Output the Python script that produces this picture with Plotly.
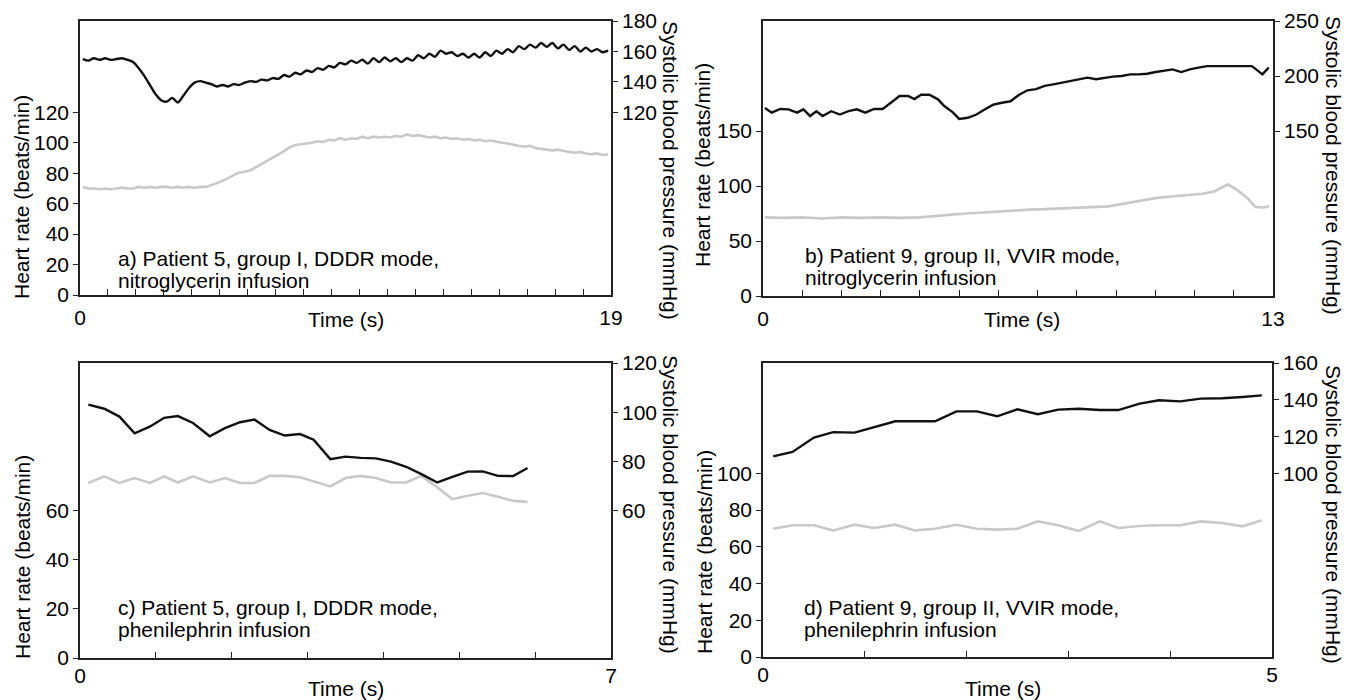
import plotly.graph_objects as go

W, H = 1349, 700
FONT = "Liberation Sans, Arial, Helvetica, sans-serif"
BLACK = "#111111"
GREY = "#c8c8c8"

# ---------------- data ----------------
# (a) Patient 5, group I, DDDR mode, nitroglycerin infusion (samples every 0.2 s from 0.1 s)
a_sbp = [155, 154, 155.5, 154.5, 155.5, 154.5, 155, 155.5, 154.5,
         153, 149, 144, 138, 132, 128, 127, 129.5, 126.5, 131, 136,
         139.5, 140.5, 139.5, 138.5, 137, 138, 137, 138.5, 138, 139.5,
         140.5, 140, 141.5, 141, 142.5, 142, 144.5, 143.5, 146, 145,
         147.5, 146.5, 149, 148, 150.5, 149.5, 152.5, 151.5, 154, 152.5,
         154.5, 152, 155.5, 153, 156, 153.5, 155.5, 153, 155.5, 154,
         157.5, 155.5, 158.5, 156.5, 160.5, 158.5, 159.5, 157, 158.5, 156,
         158.5, 156, 159.5, 157, 160.5, 158.5, 161.5, 159.5, 163.5, 161.5,
         164.5, 162.5, 165.5, 163, 165.5, 162, 164.5, 161, 163.5, 160,
         162.5, 160, 161.5, 159.5, 160.5]
a_hr = [71, 70, 70, 69.5, 70, 69.5, 70, 70.5, 70, 70, 71, 70.5, 71, 70.5, 71, 71,
        70.5, 71, 70.5, 71, 70.5, 71, 71,
        72, 73.5, 75, 77, 79, 80.5, 81, 82, 84, 86, 88, 90, 92, 94.5, 97, 98.5, 99,
        99.5, 100, 101, 100.5, 102, 101.5, 103, 102, 103, 102.5, 104, 103, 104, 103.5,
        104, 103.5, 104.5, 104, 105.5, 104.5, 105, 104, 103.5, 104, 103, 103.5, 102.5,
        103, 102, 102.5, 101.5, 102, 101, 101.5, 100.5, 100, 99.5, 98.5, 98, 97.5, 98,
        96.5, 96, 95.5, 95, 95.5, 94.5, 94, 93.5, 94, 93, 92.5, 93, 92, 92.5]
a_t = [round(0.1 + 0.2 * i, 2) for i in range(len(a_sbp))]

# (b) Patient 9, group II, VVIR mode, nitroglycerin infusion
b_sbp_t = [0.05, 0.22, 0.44, 0.65, 0.87, 1.03, 1.2, 1.36, 1.52, 1.74, 1.96, 2.18, 2.39,
           2.61, 2.83, 3.05, 3.26, 3.48, 3.70, 3.86, 4.03, 4.24, 4.46, 4.62, 4.84, 5.0,
           5.22, 5.44, 5.66, 5.87, 6.09, 6.31, 6.53, 6.74, 6.96, 7.18, 7.40, 7.62, 7.83,
           8.05, 8.27, 8.49, 8.70, 8.92, 9.14, 9.36, 9.57, 9.79, 10.01, 10.23, 10.44,
           10.66, 10.88, 11.10, 11.32, 11.53, 12.0, 12.46, 12.57, 12.73, 12.89]
b_sbp = [171, 166.7, 170, 169.7, 166.7, 169.7, 163.6, 168, 163.6, 168, 165, 168, 169.7,
         166.7, 170, 170, 175.7, 181.8, 181.8, 179, 183, 183, 178.8, 172.7, 167, 161,
         162, 165, 169.7, 174, 175.7, 177, 183, 187, 188, 191, 192.4, 194, 195.4,
         197, 198.5, 197, 198.5, 199.4, 200, 201.5, 201.5, 202, 203.6, 204.5, 206,
         203.6, 206, 207.6, 209, 209, 209, 209, 206, 201.5, 207.6]
b_hr_t = [0.05, 0.5, 1.0, 1.5, 2.0, 2.5, 3.0, 3.5, 4.0, 4.4, 4.8, 5.2, 5.6, 6.0, 6.4,
          6.8, 7.2, 7.6, 8.0, 8.4, 8.8, 9.2, 9.6, 10.0, 10.4, 10.8, 11.2, 11.5, 11.7,
          11.85, 12.1, 12.35, 12.55, 12.75, 12.9]
b_hr = [71.5, 71, 71.5, 70.5, 71.5, 71, 71.5, 71, 71.5, 73, 74, 75, 76, 77, 78,
        78.5, 79, 79.5, 80, 80.5, 81.5, 84, 86.5, 89, 90.5, 92, 93, 95, 99,
        101.5, 96, 89, 81, 80.5, 81.5]

# (c) Patient 5, group I, DDDR mode, phenilephrin infusion
c_t = [0.11, 0.32, 0.52, 0.72, 0.92, 1.11, 1.29, 1.49, 1.71, 1.91, 2.11, 2.30, 2.50,
       2.70, 2.90, 3.08, 3.30, 3.50, 3.70, 3.90, 4.10, 4.30, 4.50, 4.71, 4.91, 5.11,
       5.31, 5.51, 5.71, 5.90]
c_sbp = [103.1, 101.4, 98.2, 91.4, 94.1, 97.7, 98.4, 95.6, 90.2, 93.5, 95.9, 97, 92.8,
         90.5, 91.1, 88.8, 80.9, 81.9, 81.4, 81.2, 79.9, 77.8, 74.8, 71.4, 73.7, 75.8,
         75.9, 74.1, 74, 77.3]
c_hr = [71.2, 73.9, 71.2, 73.2, 71.2, 73.9, 71.4, 73.9, 71.4, 73.2, 71.2, 71.2, 74.1,
        74.1, 73.5, 71.8, 69.8, 73.2, 74.1, 73.2, 71.4, 71.4, 74.1, 69.4, 64.6, 66,
        67.1, 65.6, 63.9, 63.5]

# (d) Patient 9, group II, VVIR mode, phenilephrin infusion
d_t = [0.10, 0.29, 0.50, 0.69, 0.90, 1.09, 1.30, 1.49, 1.69, 1.90, 2.10, 2.30, 2.50,
       2.70, 2.90, 3.10, 3.31, 3.49, 3.70, 3.89, 4.10, 4.30, 4.51, 4.71, 4.90]
d_sbp = [109.2, 111.6, 119.4, 122.4, 122.1, 125.2, 128.3, 128.3, 128.3, 133.7, 133.7,
         131, 134.8, 132.1, 134.6, 135.1, 134.4, 134.4, 137.9, 139.7, 139.1, 140.6,
         140.8, 141.5, 142.4]
d_hr = [69.8, 71.7, 71.7, 68.9, 72, 70.2, 72, 68.9, 69.8, 72, 69.8, 69.3, 69.8, 73.8,
        71.7, 68.6, 73.8, 70.2, 71.3, 71.7, 71.7, 73.8, 72.9, 71.1, 74.4]

# axis settings
a_xmax, b_xmax, c_xmax, d_xmax = 19, 13, 7, 5
a_ymax, b_ymax, c_ymax, d_ymax = 180, 250, 120, 160
a_left = [0, 20, 40, 60, 80, 100, 120]
a_right = [120, 140, 160, 180]
b_left = [0, 50, 100, 150]
b_right = [150, 200, 250]
c_left = [0, 20, 40, 60]
c_right = [60, 80, 100, 120]
d_left = [0, 20, 40, 60, 80, 100]
d_right = [100, 120, 140, 160]

a_text = ["a) Patient 5, group I, DDDR mode,", "nitroglycerin infusion"]
b_text = ["b) Patient 9, group II, VVIR mode,", "nitroglycerin infusion"]
c_text = ["c) Patient 5, group I, DDDR mode,", "phenilephrin infusion"]
d_text = ["d) Patient 9, group II, VVIR mode,", "phenilephrin infusion"]

HR_TITLE = "Heart rate (beats/min)"
SBP_TITLE = "Systolic blood pressure (mmHg)"
X_TITLE = "Time (s)"


def fx(px):
    return px / W


def fy(py):
    return 1 - py / H


panels = [
    dict(box=(80, 21, 611, 295), xmax=a_xmax, ymax=a_ymax, left=a_left, right=a_right,
         hr_t=a_t, hr=a_hr, sbp_t=a_t, sbp=a_sbp, text=a_text, text_xy=(116, 258, 280),
         hr_title=(22, 197), sbp_title=(671, 170), x_title=(346, 320), standoff=3,
         sbp_shape="spline"),
    dict(box=(763, 21, 1273, 296), xmax=b_xmax, ymax=b_ymax, left=b_left, right=b_right,
         hr_t=b_hr_t, hr=b_hr, sbp_t=b_sbp_t, sbp=b_sbp, text=b_text, text_xy=(803, 255, 277),
         hr_title=(702, 165), sbp_title=(1334, 165), x_title=(1022, 320), standoff=3,
         sbp_shape="linear"),
    dict(box=(80, 363, 611, 658), xmax=c_xmax, ymax=c_ymax, left=c_left, right=c_right,
         hr_t=c_t, hr=c_hr, sbp_t=c_t, sbp=c_sbp, text=c_text, text_xy=(116, 607, 629),
         hr_title=(22, 557), sbp_title=(671, 504), x_title=(346, 688), standoff=-2,
         sbp_shape="linear"),
    dict(box=(763, 363, 1272, 657), xmax=d_xmax, ymax=d_ymax, left=d_left, right=d_right,
         hr_t=d_t, hr=d_hr, sbp_t=d_t, sbp=d_sbp, text=d_text, text_xy=(802, 607, 629),
         hr_title=(704, 552), sbp_title=(1334, 514), x_title=(1003, 688), standoff=-2,
         sbp_shape="linear"),
]

fig = go.Figure()
layout = dict(width=W, height=H, margin=dict(l=0, r=0, t=0, b=0, autoexpand=False),
              paper_bgcolor="white", plot_bgcolor="white", showlegend=False,
              font=dict(family=FONT, size=21, color="black"))
annotations = []

axis_line = dict(showline=True, linecolor="#222222", linewidth=1.6, showgrid=False,
                 zeroline=False, tickcolor="#222222", tickwidth=1.4, automargin=False,
                 tickfont=dict(family=FONT, size=21, color="black"))

for i, p in enumerate(panels):
    x0, y0, x1, y1 = p["box"]
    xn = "" if i == 0 else str(i + 1)
    yl = "" if i == 0 else str(2 * i + 1)
    yr = str(2 * i + 2)
    xticks = list(range(0, p["xmax"] + 1))
    xtext = [str(v) if v in (0, p["xmax"]) else "" for v in xticks]
    layout["xaxis" + xn] = dict(domain=[fx(x0), fx(x1)], range=[0, p["xmax"]],
                                anchor="y" + yl, tickvals=xticks, ticktext=xtext,
                                ticks="inside", ticklen=6, mirror=True,
                                ticklabelstandoff=p["standoff"], **axis_line)
    layout["yaxis" + yl] = dict(domain=[fy(y1), fy(y0)], range=[0, p["ymax"]],
                                anchor="x" + xn, tickvals=p["left"], ticks="outside",
                                ticklen=5, **axis_line)
    layout["yaxis" + yr] = dict(domain=[fy(y1), fy(y0)], range=[0, p["ymax"]],
                                anchor="x" + xn, overlaying="y" + yl, side="right",
                                tickvals=p["right"], ticks="outside", ticklen=5,
                                **axis_line)
    fig.add_trace(go.Scatter(x=p["hr_t"], y=p["hr"], mode="lines",
                             line=dict(color=GREY, width=2.6),
                             xaxis="x" + xn, yaxis="y" + yl))
    sbp_line = dict(color=BLACK, width=2.4, shape=p["sbp_shape"])
    if p["sbp_shape"] == "spline":
        sbp_line["smoothing"] = 0.7
    fig.add_trace(go.Scatter(x=p["sbp_t"], y=p["sbp"], mode="lines", line=sbp_line,
                             xaxis="x" + xn, yaxis="y" + yr))
    tx, ty1, ty2 = p["text_xy"]
    for line_text, ty in zip(p["text"], (ty1, ty2)):
        annotations.append(dict(text=line_text, x=fx(tx), y=fy(ty), xref="paper",
                                yref="paper", xanchor="left", yanchor="middle",
                                showarrow=False, font=dict(family=FONT, size=21)))
    hx, hy = p["hr_title"]
    annotations.append(dict(text=HR_TITLE, x=fx(hx), y=fy(hy), xref="paper", yref="paper",
                            textangle=-90, xanchor="center", yanchor="middle",
                            showarrow=False, font=dict(family=FONT, size=21)))
    sx, sy = p["sbp_title"]
    annotations.append(dict(text=SBP_TITLE, x=fx(sx), y=fy(sy), xref="paper", yref="paper",
                            textangle=90, xanchor="center", yanchor="middle",
                            showarrow=False, font=dict(family=FONT, size=21)))
    xx, xy = p["x_title"]
    annotations.append(dict(text=X_TITLE, x=fx(xx), y=fy(xy), xref="paper", yref="paper",
                            xanchor="center", yanchor="middle",
                            showarrow=False, font=dict(family=FONT, size=21)))

layout["annotations"] = annotations
fig.update_layout(**layout)

# remove the default page margin so the figure fills the 1349x700 window exactly
page_fix = ("document.body.style.margin='0';document.body.style.padding='0';"
            "document.documentElement.style.overflow='hidden';"
            "document.body.style.overflow='hidden';")
fig.write_html("out.html", post_script=page_fix,
               config={"displayModeBar": False, "responsive": False})
